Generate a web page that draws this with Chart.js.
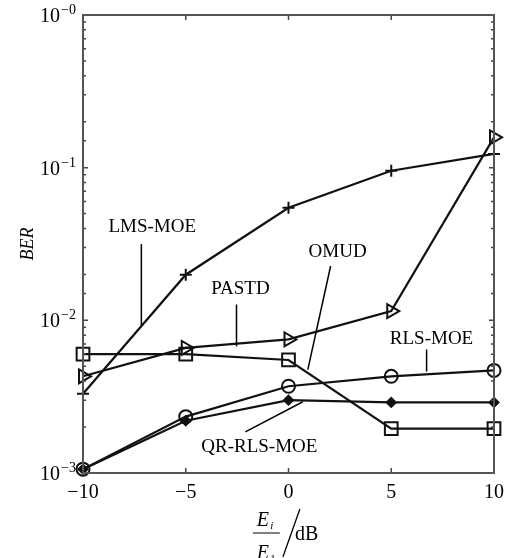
<!DOCTYPE html>
<html>
<head>
<meta charset="utf-8">
<script src="https://cdn.jsdelivr.net/npm/chart.js@4.4.1/dist/chart.umd.min.js"></script>
<style>
  html, body { margin: 0; padding: 0; background: #fff; }
  #wrap { width: 505px; height: 558px; }
</style>
</head>
<body>
<div id="wrap"><canvas id="chart" width="505" height="558"></canvas></div>
<script>
// --- DATA ---
const snr = [-10, -5, 0, 5, 10];           // Ei/E1 in dB
const lmsMoe   = [0.0033, 0.0199, 0.0546, 0.0955, 0.123];
const pastd    = [0.0043, 0.0066, 0.0075, 0.0115, 0.158];
const omud     = [0.0060, 0.0060, 0.0055, 0.00195, 0.00195];
const rlsMoe   = [0.00106, 0.00234, 0.0037, 0.0043, 0.0047];
const qrRlsMoe = [0.00106, 0.0022, 0.0030, 0.0029, 0.0029];
const xTicks = [-10, -5, 0, 5, 10];
const yDecades = [0.001, 0.01, 0.1, 1];
const yDecadeExp = ['3', '2', '1', '0'];   // shown as 10^-n

// annotation labels with pointer lines, in data coordinates
const labels = [
  { text: 'LMS-MOE',    at: [-6.63, 0.0409],  line: [[-7.16, 0.0316], [-7.16, 0.00927]] },
  { text: 'PASTD',      at: [-2.34, 0.0160],  line: [[-2.53, 0.0127], [-2.53, 0.00675]] },
  { text: 'OMUD',       at: [2.39, 0.0280],   line: [[2.05, 0.0227], [0.94, 0.00476]] },
  { text: 'RLS-MOE',    at: [6.96, 0.0076],   line: [[6.72, 0.00644], [6.72, 0.00462]] },
  { text: 'QR-RLS-MOE', at: [-1.42, 0.00148], line: [[-2.10, 0.00186], [0.70, 0.00293]] }
];

const SERIF = '"Liberation Serif", "Times New Roman", serif';
const INK = '#111';

function series(data, style, radius, rot, fill) {
  return {
    data: data.map((v, i) => ({ x: snr[i], y: v })),
    borderColor: INK,
    borderWidth: 2.2,
    pointStyle: style,
    pointRadius: radius,
    pointHoverRadius: radius,
    pointRotation: rot || 0,
    pointBorderColor: INK,
    pointBorderWidth: 2,
    pointBackgroundColor: fill || 'rgba(0,0,0,0)',
    tension: 0,
    clip: false
  };
}

// frame, inward ticks, y labels, annotations, x-axis fraction title
const decorations = {
  id: 'decorations',
  afterDatasetsDraw(chart) {
    const { ctx, chartArea: a, scales: { x, y } } = chart;
    ctx.save();
    // inward tick marks
    ctx.strokeStyle = '#444';
    ctx.lineWidth = 1.5;
    y.ticks.forEach(t => {
      const py = y.getPixelForValue(t.value);
      const major = Math.abs(Math.log10(t.value) - Math.round(Math.log10(t.value))) < 1e-6;
      const len = major ? 5 : 3;
      ctx.beginPath();
      ctx.moveTo(a.left, py); ctx.lineTo(a.left + len, py);
      ctx.moveTo(a.right, py); ctx.lineTo(a.right - len, py);
      ctx.stroke();
    });
    xTicks.forEach(v => {
      const px = x.getPixelForValue(v);
      ctx.beginPath();
      ctx.moveTo(px, a.bottom); ctx.lineTo(px, a.bottom - 5);
      ctx.moveTo(px, a.top); ctx.lineTo(px, a.top + 5);
      ctx.stroke();
    });
    // frame
    ctx.strokeStyle = '#555';
    ctx.lineWidth = 2;
    ctx.strokeRect(a.left, a.top, a.right - a.left, a.bottom - a.top);

    // y tick labels 10^-n with a real superscript
    ctx.fillStyle = '#000';
    ctx.textBaseline = 'alphabetic';
    yDecades.forEach((d, i) => {
      const py = y.getPixelForValue(d);
      ctx.font = '14px ' + SERIF;
      ctx.textAlign = 'left';
      const sup = '\u2212' + yDecadeExp[i];
      const sw = ctx.measureText(sup).width;
      ctx.fillText(sup, 76 - sw, py - 1);
      ctx.font = '20px ' + SERIF;
      ctx.textAlign = 'right';
      ctx.fillText('10', 75 - sw, py + 7);
    });

    // annotations
    ctx.font = '19px ' + SERIF;
    ctx.textAlign = 'center';
    ctx.textBaseline = 'middle';
    labels.forEach(l => {
      ctx.fillText(l.text, x.getPixelForValue(l.at[0]), y.getPixelForValue(l.at[1]));
      ctx.strokeStyle = '#000';
      ctx.lineWidth = 1.5;
      ctx.beginPath();
      ctx.moveTo(x.getPixelForValue(l.line[0][0]), y.getPixelForValue(l.line[0][1]));
      ctx.lineTo(x.getPixelForValue(l.line[1][0]), y.getPixelForValue(l.line[1][1]));
      ctx.stroke();
    });

    // x-axis title: (Ei / E1) / dB
    const cx = x.getPixelForValue(-1.1);
    ctx.textAlign = 'center';
    ctx.textBaseline = 'alphabetic';
    ctx.font = 'italic 20px ' + SERIF;
    ctx.fillText('E', cx - 3, 526);
    ctx.fillText('E', cx - 3, 559);
    ctx.font = 'italic 11px ' + SERIF;
    ctx.fillText('i', cx + 6, 529);
    ctx.font = '11px ' + SERIF;
    ctx.fillText('1', cx + 7, 562);
    ctx.lineWidth = 1;
    ctx.beginPath();
    ctx.moveTo(cx - 13, 533); ctx.lineTo(cx + 14, 533);
    ctx.stroke();
    ctx.lineWidth = 1.3;
    ctx.beginPath();
    ctx.moveTo(cx + 17, 557); ctx.lineTo(cx + 34, 509);
    ctx.stroke();
    ctx.font = '20px ' + SERIF;
    ctx.textAlign = 'left';
    ctx.fillText('dB', cx + 29, 540);
    ctx.restore();
  }
};

new Chart(document.getElementById('chart'), {
  type: 'line',
  data: {
    datasets: [
      series(lmsMoe, 'cross', 6),
      series(pastd, 'triangle', 8, 90),
      series(omud, 'rect', 9),
      series(rlsMoe, 'circle', 6.5),
      series(qrRlsMoe, 'rectRot', 4.5, 0, INK)
    ]
  },
  options: {
    responsive: false,
    animation: false,
    layout: { padding: { top: 15, right: 7, left: 0, bottom: 0 } },
    plugins: { legend: { display: false }, tooltip: { enabled: false } },
    scales: {
      x: {
        type: 'linear',
        min: -10, max: 10,
        grid: { display: false, drawTicks: false },
        border: { display: false },
        afterBuildTicks: s => { s.ticks = xTicks.map(v => ({ value: v })); },
        ticks: {
          padding: 8,
          color: '#000',
          font: { family: SERIF, size: 20 },
          callback: v => (v < 0 ? '\u2212' + Math.abs(v) : String(v))
        },
        afterFit: s => { s.height = 85; s.paddingLeft = 0; s.paddingRight = 0; }
      },
      y: {
        type: 'logarithmic',
        min: 0.001, max: 1,
        grid: { display: false, drawTicks: false },
        border: { display: false },
        title: {
          display: true,
          text: 'BER',
          color: '#000',
          font: { family: SERIF, size: 18, style: 'italic' },
          padding: { top: 17, bottom: 0 }
        },
        ticks: { autoSkip: false, display: false },
        afterFit: s => { s.width = 83; s.paddingTop = 0; s.paddingBottom = 0; }
      }
    }
  },
  plugins: [decorations]
});
</script>
</body>
</html>
